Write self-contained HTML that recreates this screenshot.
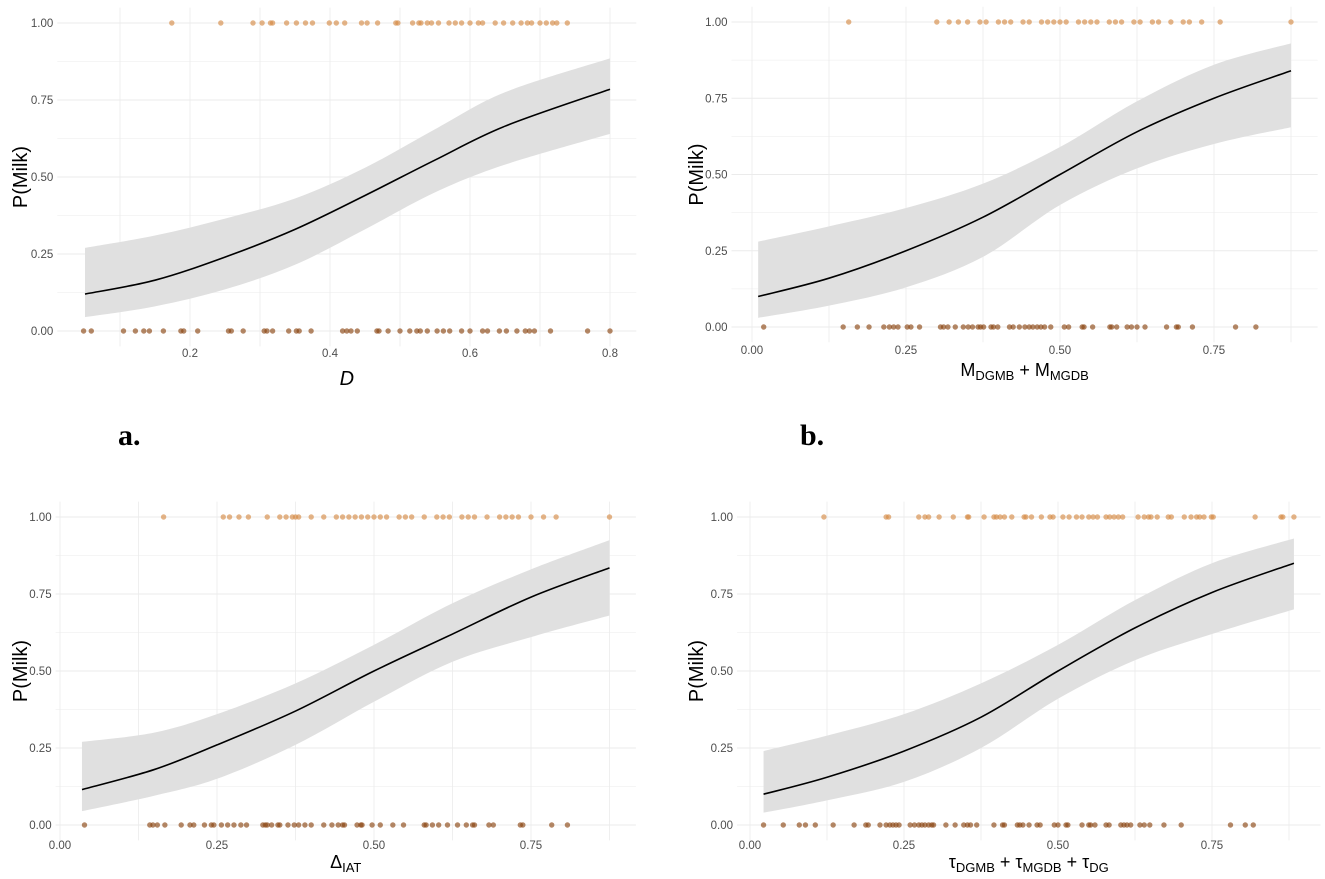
<!DOCTYPE html>
<html><head><meta charset="utf-8">
<style>
body{margin:0;background:#fff;}
svg{display:block;font-family:"Liberation Sans",sans-serif;}
.tick{font-size:11.5px;fill:#4d4d4d;}
.ytitle{font-size:20px;fill:#000;}
.xtitle{font-size:18px;fill:#000;}
.lab{font-family:"Liberation Serif",serif;font-weight:bold;font-size:30px;fill:#000;}
</style></head><body>
<svg id="chart" width="1325" height="879"></svg>
<script>
// Panel a
const aFitX=[0.05,0.15,0.25,0.35,0.45,0.55,0.65,0.8];
const aFit=[0.12,0.165,0.24,0.33,0.44,0.555,0.665,0.785];
const aLow=[0.045,0.08,0.135,0.215,0.33,0.45,0.54,0.64];
const aUp=[0.27,0.31,0.365,0.43,0.53,0.655,0.775,0.885];
const aTop=[.174,.244,.29,.303,.315,.318,.338,.352,.365,.375,.399,.409,.421,.445,.453,.468,.494,.497,.518,.527,.53,.539,.545,.555,.57,.579,.588,.6,.612,.618,.636,.648,.661,.673,.682,.688,.7,.709,.718,.724,.739];
const aBot=[.048,.059,.105,.122,.134,.142,.162,.187,.191,.211,.255,.259,.276,.306,.31,.318,.341,.352,.356,.373,.418,.424,.43,.439,.467,.47,.483,.5,.514,.524,.529,.539,.553,.562,.571,.588,.6,.618,.625,.642,.652,.667,.679,.685,.692,.715,.768,.8];
const aTicks=["0.2","0.4","0.6","0.8"];
// Panel b
const bFitX=[0.01,0.125,0.25,0.375,0.5,0.625,0.75,0.875];
const bFit=[0.10,0.16,0.25,0.36,0.50,0.64,0.75,0.84];
const bLow=[0.03,0.07,0.13,0.23,0.40,0.52,0.60,0.655];
const bUp=[0.28,0.33,0.39,0.47,0.59,0.74,0.86,0.93];
const bTop=[.157,.30,.32,.335,.35,.37,.38,.40,.41,.42,.44,.45,.47,.48,.49,.50,.51,.53,.54,.55,.56,.58,.59,.60,.62,.63,.65,.66,.68,.70,.71,.73,.76,.875];
const bBot=[.019,.148,.171,.19,.214,.223,.23,.237,.252,.258,.272,.306,.311,.318,.33,.343,.351,.358,.367,.371,.376,.388,.392,.399,.418,.424,.434,.443,.45,.456,.463,.469,.475,.485,.507,.514,.536,.539,.553,.581,.584,.592,.609,.616,.625,.638,.673,.689,.692,.715,.785,.818];
// Panel c
const cFitX=[0.035,0.15,0.25,0.375,0.5,0.625,0.75,0.875];
const cFit=[0.115,0.18,0.26,0.37,0.50,0.62,0.74,0.835];
const cLow=[0.045,0.095,0.15,0.26,0.40,0.53,0.61,0.68];
const cUp=[0.27,0.30,0.36,0.46,0.585,0.72,0.83,0.925];
const cTop=[.165,.26,.27,.285,.30,.33,.35,.36,.37,.375,.38,.40,.42,.44,.45,.46,.47,.48,.49,.50,.51,.52,.54,.55,.56,.58,.60,.61,.62,.64,.65,.66,.68,.70,.71,.72,.73,.75,.77,.79,.875];
const cBot=[.039,.143,.148,.155,.167,.193,.207,.213,.23,.241,.245,.257,.267,.277,.288,.297,.323,.327,.33,.337,.347,.35,.363,.373,.38,.39,.4,.42,.433,.443,.45,.453,.473,.479,.481,.497,.51,.53,.547,.58,.583,.593,.603,.617,.633,.647,.657,.66,.683,.69,.733,.737,.783,.808];
// Panel d
const dFitX=[0.022,0.125,0.25,0.375,0.5,0.625,0.75,0.883];
const dFit=[0.10,0.155,0.24,0.35,0.50,0.64,0.755,0.85];
const dLow=[0.04,0.08,0.14,0.25,0.41,0.535,0.62,0.70];
const dUp=[0.24,0.29,0.36,0.46,0.585,0.73,0.85,0.93];
const dTop=[.12,.221,.225,.274,.284,.29,.307,.33,.353,.355,.38,.396,.4,.406,.413,.425,.445,.448,.457,.473,.487,.492,.508,.518,.53,.539,.55,.557,.564,.578,.584,.591,.598,.605,.63,.64,.647,.651,.661,.679,.684,.705,.716,.725,.73,.737,.749,.752,.82,.862,.865,.883];
const dBot=[.022,.054,.08,.09,.106,.135,.169,.188,.192,.211,.221,.227,.232,.237,.242,.26,.267,.274,.279,.284,.29,.295,.298,.318,.333,.347,.353,.358,.368,.396,.41,.413,.434,.438,.443,.453,.466,.471,.494,.5,.513,.516,.539,.55,.553,.56,.578,.583,.602,.607,.612,.618,.633,.64,.649,.672,.7,.78,.804,.817];
const qTicks=["0.00","0.25","0.50","0.75"];
const yTicks=["0.00","0.25","0.50","0.75","1.00"];

const NS="http://www.w3.org/2000/svg";
const svg=document.getElementById('chart');
function mk(tag,attrs,parent){const e=document.createElementNS(NS,tag);for(const k in attrs)e.setAttribute(k,attrs[k]);(parent||svg).appendChild(e);return e;}
function spline(pts){let d="M"+pts[0][0]+","+pts[0][1];for(let i=0;i<pts.length-1;i++){const p0=pts[Math.max(0,i-1)],p1=pts[i],p2=pts[i+1],p3=pts[Math.min(pts.length-1,i+2)];const c1=[p1[0]+(p2[0]-p0[0])/6,p1[1]+(p2[1]-p0[1])/6],c2=[p2[0]-(p3[0]-p1[0])/6,p2[1]-(p3[1]-p1[1])/6];d+=" C"+c1[0]+","+c1[1]+" "+c2[0]+","+c2[1]+" "+p2[0]+","+p2[1];}return d;}

function panel(cfg){
  const g=mk('g',{});
  
  
  const X=v=>cfg.x0+(v-cfg.v0)*cfg.ppu;
  const Y=v=>cfg.y0-v*cfg.yppu;
  const all=cfg.top.concat(cfg.bot,cfg.fx);
  const mn=Math.min(...all),mx=Math.max(...all),ex=(mx-mn)*0.05;
  const L=X(mn-ex),R=X(mx+ex),T=Y(1.05),B=Y(-0.05);
  for(let v=0;v<=1.0001;v+=0.125){const l=mk('line',{x1:L,x2:R,y1:Y(v),y2:Y(v),stroke:'#ebebeb','stroke-width':(Math.round(v*8)%2?0.6:1)},g);}
  const step=cfg.step/2;
  for(let v=Math.ceil((mn-ex)/step)*step;v<=mx+ex;v+=step){const l=mk('line',{x1:X(v),x2:X(v),y1:T,y2:B,stroke:'#ebebeb','stroke-width':0.8},g);}
  const up=cfg.fx.map((v,i)=>[X(v),Y(cfg.up[i])]),lo=cfg.fx.map((v,i)=>[X(v),Y(cfg.lo[i])]).reverse();
  const ls=spline(lo);
  let d=spline(up)+" L"+lo[0][0]+","+lo[0][1]+ls.slice(ls.indexOf(' C'))+" Z";
  const rib=mk('path',{d:d,fill:'#e0e0e0'},g);
  
  
  const fit=mk('path',{d:spline(cfg.fx.map((v,i)=>[X(v),Y(cfg.fit[i])])),fill:'none',stroke:'#000','stroke-width':1.6},g);
  
  
  cfg.top.forEach(v=>{const c=mk('circle',{cx:X(v),cy:Y(1),r:2.7,fill:'rgba(214,140,70,0.65)'},g);});
  cfg.bot.forEach(v=>{const c=mk('circle',{cx:X(v),cy:Y(0),r:2.7,fill:'rgba(140,70,20,0.65)'},g);});
  yTicks.forEach((t,i)=>{const e=mk('text',{x:L-4,y:Y(i*0.25)+4,'text-anchor':'end',class:'tick'},g);e.textContent=t;});
  cfg.ticks.forEach((t,i)=>{const e=mk('text',{x:X(parseFloat(t)),y:cfg.tickY,'text-anchor':'middle',class:'tick'},g);e.textContent=t;});
  const yt=mk('text',{x:0,y:0,transform:`translate(${cfg.ytx},${(T+B)/2}) rotate(-90)`,'text-anchor':'middle',class:'ytitle'},g);
  yt.textContent='P(Milk)';
  
  
  const xt=mk('text',{x:(L+R)/2,y:cfg.xty,'text-anchor':'middle',class:'xtitle'},g);
  xt.innerHTML=cfg.xtitle;
  
  
}
const sub=(s)=>`<tspan font-size="13" dy="4">${s}</tspan><tspan dy="-4"> </tspan>`;
panel({name:'panel-a',x0:190,v0:0.2,ppu:700,y0:331,yppu:308,fx:aFitX,fit:aFit,lo:aLow,up:aUp,top:aTop,bot:aBot,ticks:aTicks,step:0.2,tickY:357,ytx:27,xty:385,xtitle:'<tspan font-style="italic" font-size="20">D</tspan>'});
panel({name:'panel-b',x0:752,v0:0,ppu:616,y0:327,yppu:305,fx:bFitX,fit:bFit,lo:bLow,up:bUp,top:bTop,bot:bBot,ticks:qTicks,step:0.25,tickY:354,ytx:703,xty:376,xtitle:'M'+sub('DGMB')+'+ M'+sub('MGDB')});
panel({name:'panel-c',x0:60,v0:0,ppu:628,y0:825,yppu:308,fx:cFitX,fit:cFit,lo:cLow,up:cUp,top:cTop,bot:cBot,ticks:qTicks,step:0.25,tickY:849,ytx:27,xty:868,xtitle:'Δ'+sub('IAT')});
panel({name:'panel-d',x0:750,v0:0,ppu:616,y0:825,yppu:308,fx:dFitX,fit:dFit,lo:dLow,up:dUp,top:dTop,bot:dBot,ticks:qTicks,step:0.25,tickY:849,ytx:703,xty:868,xtitle:'τ'+sub('DGMB')+'+ τ'+sub('MGDB')+'+ τ'+sub('DG')});
const la=mk('text',{x:118,y:445,class:'lab'});la.textContent='a.';


const lb=mk('text',{x:800,y:445,class:'lab'});lb.textContent='b.';


</script>
</body></html>
